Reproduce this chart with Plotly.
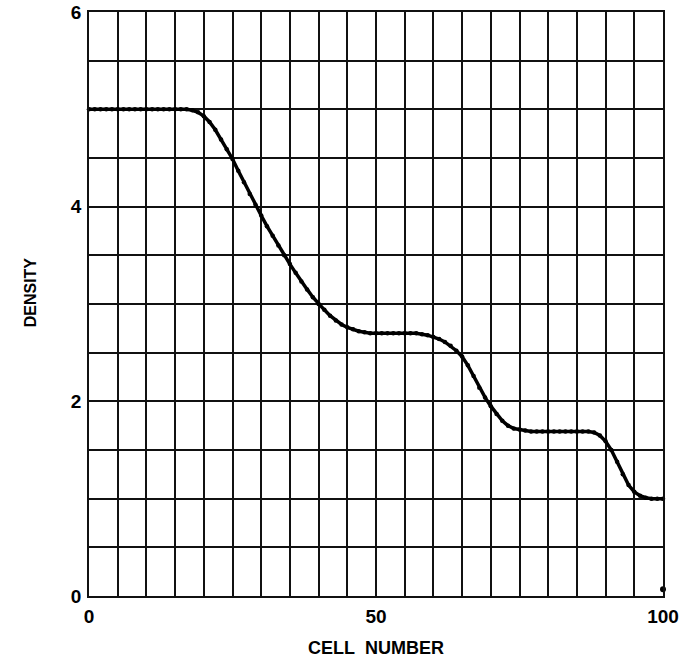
import plotly.graph_objects as go

cells = list(range(0, 101))
density = [
    5.00, 5.00, 5.00, 5.00, 5.00, 5.00, 5.00, 5.00, 5.00, 5.00,   # 0-9
    5.00, 5.00, 5.00, 5.00, 5.00, 5.00, 5.00, 5.00, 4.99, 4.97,   # 10-19
    4.93, 4.87, 4.79, 4.69, 4.59, 4.49, 4.37, 4.25, 4.13, 4.02,   # 20-29
    3.91, 3.80, 3.70, 3.60, 3.50, 3.41, 3.32, 3.23, 3.15, 3.07,   # 30-39
    3.00, 2.94, 2.88, 2.83, 2.79, 2.76, 2.74, 2.72, 2.71, 2.70,   # 40-49
    2.70, 2.70, 2.70, 2.70, 2.70, 2.70, 2.70, 2.70, 2.69, 2.68,   # 50-59
    2.66, 2.64, 2.61, 2.57, 2.52, 2.46, 2.37, 2.26, 2.14, 2.04,   # 60-69
    1.95, 1.87, 1.80, 1.75, 1.72, 1.71, 1.70, 1.69, 1.69, 1.69,   # 70-79
    1.69, 1.69, 1.69, 1.69, 1.69, 1.69, 1.69, 1.69, 1.68, 1.65,   # 80-89
    1.59, 1.50, 1.38, 1.25, 1.14, 1.07, 1.03, 1.01, 1.00, 1.00,   # 90-99
    1.00,                                                         # 100
]
stray_x = [100]
stray_y = [0.07]

x_grid = list(range(0, 101, 5))
x_labels = ["0" if v == 0 else "50" if v == 50 else "100" if v == 100 else "" for v in x_grid]
y_grid = [i * 0.5 for i in range(13)]
y_labels = [str(int(v)) if v in (0, 2, 4, 6) else "" for v in y_grid]

fig = go.Figure()
fig.add_trace(go.Scatter(
    x=cells, y=density, mode="lines+markers",
    line=dict(color="black", width=3.5),
    marker=dict(color="black", size=4.5),
    showlegend=False, cliponaxis=False,
))
fig.add_trace(go.Scatter(
    x=stray_x, y=stray_y, mode="markers",
    marker=dict(color="black", size=6),
    showlegend=False, cliponaxis=False,
))

tickfont = dict(family="Liberation Sans, Arial, sans-serif", size=19, color="black", weight="bold")

fig.update_layout(
    width=684, height=663,
    margin=dict(l=89, r=21, t=12, b=67, autoexpand=False),
    paper_bgcolor="white", plot_bgcolor="white",
    xaxis=dict(range=[0, 100], tickvals=x_grid, ticktext=x_labels, automargin=False,
               showgrid=True, gridcolor="#111", gridwidth=1.5,
               showline=True, linecolor="#111", linewidth=1.5, mirror=True,
               zeroline=False, ticks="", tickfont=tickfont, ticklabelstandoff=2),
    yaxis=dict(range=[0, 6], tickvals=y_grid, ticktext=y_labels, automargin=False,
               showgrid=True, gridcolor="#111", gridwidth=1.5,
               showline=True, linecolor="#111", linewidth=1.5, mirror=True,
               zeroline=False, ticks="", tickfont=tickfont, ticklabelstandoff=2),
    annotations=[
        dict(text="CELL\u00a0\u00a0NUMBER", xref="paper", yref="paper", x=0.5, y=0, yshift=-52,
             showarrow=False, xanchor="center", yanchor="middle",
             font=dict(family="Liberation Sans, Arial, sans-serif", size=18, color="black", weight="bold")),
        dict(text="DENSITY", xref="paper", yref="paper", x=0, xshift=-59, y=0.52,
             showarrow=False, xanchor="center", yanchor="middle", textangle=-90,
             font=dict(family="Liberation Sans Narrow, Arial Narrow, Liberation Sans, sans-serif", size=16, color="black", weight="bold")),
    ],
)

fig.write_html("out.html", config={"displayModeBar": False},
               post_script="document.body.style.margin='0';document.body.style.overflow='hidden';")
